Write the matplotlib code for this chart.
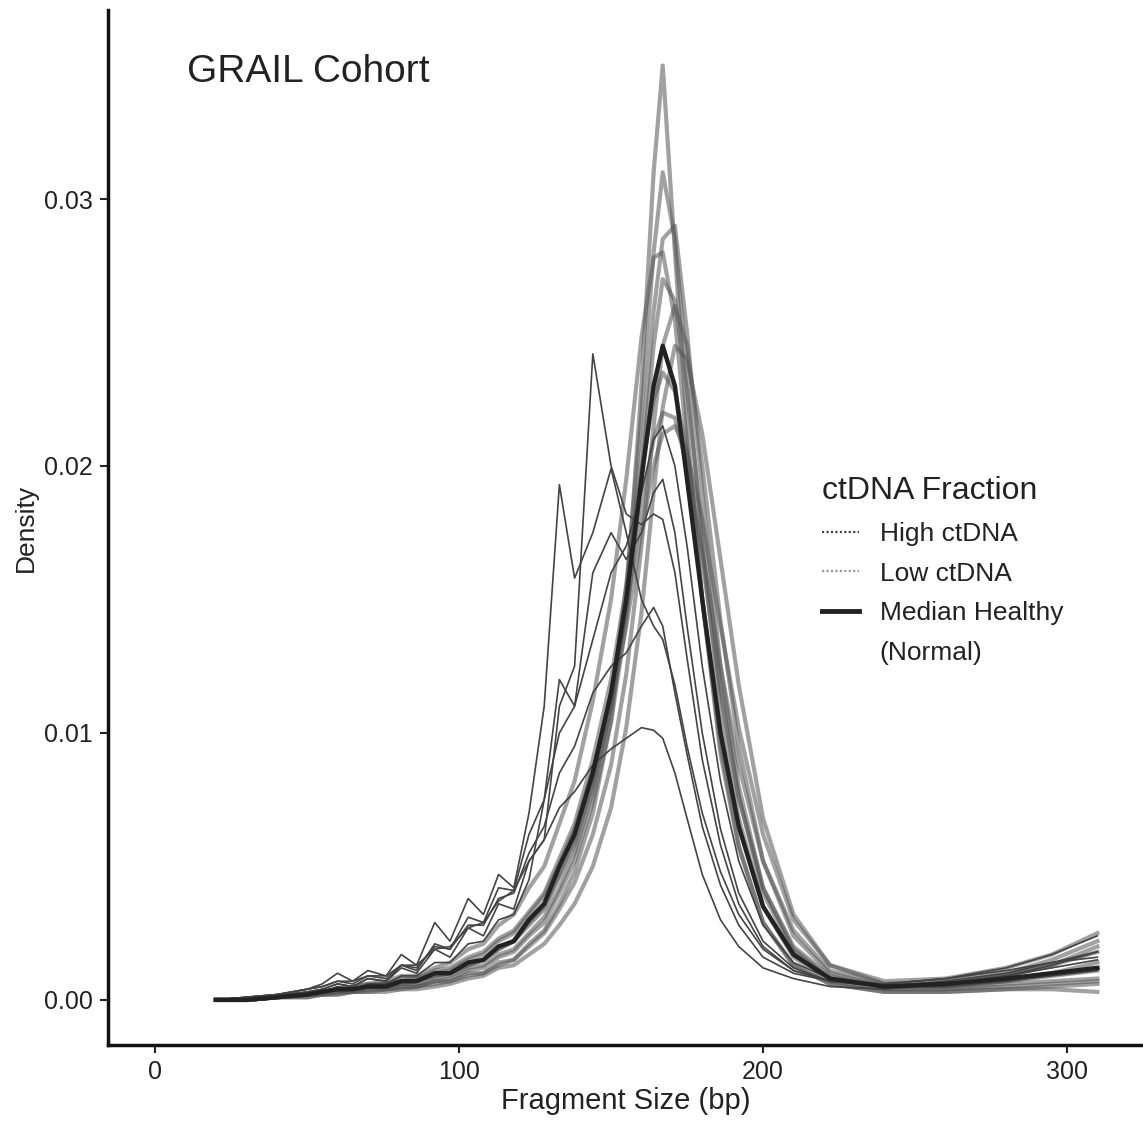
import matplotlib
matplotlib.use("Agg")
import matplotlib.pyplot as plt
from matplotlib.lines import Line2D

plt.rcParams['font.family'] = ['Liberation Sans', 'DejaVu Sans']

sizes = [20, 30, 40, 50, 55, 60, 65, 70, 76, 81,
         86, 92, 97, 103, 108, 113, 118, 123, 128, 133,
         138, 144, 150, 155, 160, 164, 167, 171, 175, 180,
         186, 192, 200, 210, 222, 240, 260, 280, 295, 310]

# high ctDNA samples
high_1 = [0, 0.0001, 0.0002, 0.0004, 0.0006, 0.0010, 0.0007, 0.0011, 0.0009, 0.0017,
          0.0013, 0.0029, 0.0022, 0.0038, 0.0032, 0.0047, 0.0042, 0.0070, 0.0110, 0.0193,
          0.0158, 0.0175, 0.0199, 0.0175, 0.0150, 0.0140, 0.0135, 0.0118, 0.0095, 0.0070,
          0.0048, 0.0032, 0.0019, 0.0011, 0.0007, 0.0005, 0.0007, 0.0010, 0.0014, 0.0018]
high_2 = [0, 0, 0.0001, 0.0003, 0.0004, 0.0006, 0.0005, 0.0008, 0.0007, 0.0012,
          0.0010, 0.0019, 0.0016, 0.0027, 0.0024, 0.0036, 0.0034, 0.0052, 0.0060, 0.0110,
          0.0125, 0.0242, 0.0200, 0.0182, 0.0178, 0.0182, 0.0180, 0.0160, 0.0128, 0.0090,
          0.0058, 0.0036, 0.0020, 0.0011, 0.0007, 0.0006, 0.0008, 0.0011, 0.0014, 0.0016]
high_3 = [0, 0.0001, 0.0002, 0.0004, 0.0005, 0.0007, 0.0006, 0.0009, 0.0008, 0.0013,
          0.0012, 0.0020, 0.0019, 0.0028, 0.0028, 0.0038, 0.0040, 0.0055, 0.0065, 0.0085,
          0.0095, 0.0115, 0.0125, 0.0130, 0.0140, 0.0147, 0.0140, 0.0115, 0.0092, 0.0065,
          0.0043, 0.0028, 0.0016, 0.0010, 0.0007, 0.0006, 0.0008, 0.0012, 0.0017, 0.0024]
high_4 = [0, 0.0001, 0.0002, 0.0004, 0.0005, 0.0007, 0.0007, 0.0009, 0.0009, 0.0013,
          0.0013, 0.0019, 0.0020, 0.0027, 0.0029, 0.0037, 0.0041, 0.0052, 0.0060, 0.0072,
          0.0078, 0.0088, 0.0094, 0.0098, 0.0102, 0.0101, 0.0098, 0.0085, 0.0068, 0.0047,
          0.0030, 0.0020, 0.0012, 0.0008, 0.0005, 0.0004, 0.0006, 0.0009, 0.0013, 0.0018]
high_5 = [0, 0.0001, 0.0002, 0.0003, 0.0004, 0.0006, 0.0005, 0.0008, 0.0007, 0.0013,
          0.0011, 0.0021, 0.0019, 0.0031, 0.0029, 0.0042, 0.0041, 0.0062, 0.0075, 0.0120,
          0.0110, 0.0160, 0.0175, 0.0165, 0.0175, 0.0190, 0.0195, 0.0175, 0.0140, 0.0100,
          0.0064, 0.0040, 0.0022, 0.0012, 0.0007, 0.0005, 0.0006, 0.0009, 0.0012, 0.0015]
high_6 = [0, 0, 0.0001, 0.0002, 0.0003, 0.0005, 0.0004, 0.0006, 0.0006, 0.0009,
          0.0009, 0.0014, 0.0014, 0.0021, 0.0022, 0.0030, 0.0032, 0.0045, 0.0075, 0.0100,
          0.0110, 0.0135, 0.0160, 0.0170, 0.0190, 0.0210, 0.0215, 0.0200, 0.0170, 0.0125,
          0.0082, 0.0052, 0.0028, 0.0014, 0.0008, 0.0005, 0.0005, 0.0007, 0.0009, 0.0011]

# low ctDNA samples
low_1 = [0, 0, 0.0001, 0.0002, 0.0002, 0.0003, 0.0003, 0.0004, 0.0004, 0.0005,
         0.0005, 0.0007, 0.0007, 0.0010, 0.0010, 0.0014, 0.0015, 0.0021, 0.0026, 0.0036,
         0.0048, 0.0070, 0.0105, 0.0150, 0.0230, 0.0310, 0.0350, 0.0280, 0.0215, 0.0150,
         0.0092, 0.0057, 0.0029, 0.0013, 0.0006, 0.0003, 0.0003, 0.0004, 0.0004, 0.0003]
low_2 = [0, 0, 0.0001, 0.0002, 0.0003, 0.0003, 0.0004, 0.0005, 0.0005, 0.0006,
         0.0006, 0.0008, 0.0009, 0.0012, 0.0013, 0.0017, 0.0019, 0.0025, 0.0031, 0.0042,
         0.0055, 0.0078, 0.0112, 0.0155, 0.0220, 0.0280, 0.0310, 0.0285, 0.0235, 0.0170,
         0.0108, 0.0068, 0.0035, 0.0016, 0.0007, 0.0004, 0.0004, 0.0006, 0.0007, 0.0008]
low_3 = [0, 0, 0.0001, 0.0002, 0.0003, 0.0004, 0.0004, 0.0005, 0.0006, 0.0007,
         0.0007, 0.0009, 0.0010, 0.0013, 0.0015, 0.0019, 0.0022, 0.0028, 0.0034, 0.0046,
         0.0058, 0.0080, 0.0110, 0.0148, 0.0205, 0.0258, 0.0285, 0.0290, 0.0250, 0.0190,
         0.0125, 0.0080, 0.0042, 0.0019, 0.0008, 0.0005, 0.0005, 0.0007, 0.0009, 0.0011]
low_4 = [0, 0, 0.0001, 0.0002, 0.0002, 0.0003, 0.0003, 0.0004, 0.0004, 0.0005,
         0.0005, 0.0007, 0.0008, 0.0011, 0.0012, 0.0016, 0.0018, 0.0024, 0.0029, 0.0040,
         0.0052, 0.0074, 0.0104, 0.0142, 0.0196, 0.0245, 0.0270, 0.0262, 0.0228, 0.0176,
         0.0118, 0.0076, 0.0040, 0.0018, 0.0008, 0.0004, 0.0004, 0.0005, 0.0006, 0.0007]
low_5 = [0, 0, 0.0001, 0.0001, 0.0002, 0.0002, 0.0003, 0.0003, 0.0004, 0.0004,
         0.0005, 0.0006, 0.0007, 0.0009, 0.0010, 0.0013, 0.0015, 0.0020, 0.0025, 0.0034,
         0.0044, 0.0062, 0.0088, 0.0122, 0.0170, 0.0215, 0.0245, 0.0260, 0.0245, 0.0200,
         0.0142, 0.0095, 0.0052, 0.0024, 0.0010, 0.0005, 0.0005, 0.0007, 0.0010, 0.0014]
low_6 = [0, 0, 0.0001, 0.0002, 0.0003, 0.0004, 0.0005, 0.0006, 0.0006, 0.0008,
         0.0008, 0.0011, 0.0012, 0.0016, 0.0018, 0.0023, 0.0026, 0.0033, 0.0040, 0.0053,
         0.0066, 0.0090, 0.0120, 0.0155, 0.0198, 0.0225, 0.0235, 0.0228, 0.0205, 0.0165,
         0.0115, 0.0076, 0.0042, 0.0020, 0.0009, 0.0005, 0.0006, 0.0009, 0.0013, 0.0018]
low_7 = [0, 0, 0.0001, 0.0002, 0.0003, 0.0004, 0.0004, 0.0005, 0.0006, 0.0007,
         0.0008, 0.0010, 0.0011, 0.0015, 0.0017, 0.0022, 0.0025, 0.0032, 0.0039, 0.0051,
         0.0064, 0.0086, 0.0114, 0.0146, 0.0184, 0.0210, 0.0220, 0.0218, 0.0200, 0.0168,
         0.0125, 0.0088, 0.0052, 0.0026, 0.0011, 0.0006, 0.0007, 0.0010, 0.0015, 0.0022]
low_8 = [0, 0, 0.0001, 0.0002, 0.0003, 0.0004, 0.0005, 0.0006, 0.0007, 0.0009,
         0.0009, 0.0012, 0.0014, 0.0019, 0.0021, 0.0028, 0.0032, 0.0042, 0.0050, 0.0066,
         0.0082, 0.0112, 0.0150, 0.0195, 0.0248, 0.0278, 0.0280, 0.0255, 0.0208, 0.0150,
         0.0095, 0.0058, 0.0029, 0.0013, 0.0006, 0.0003, 0.0003, 0.0004, 0.0005, 0.0006]
low_9 = [0, 0, 0.0001, 0.0001, 0.0002, 0.0002, 0.0003, 0.0003, 0.0003, 0.0004,
         0.0004, 0.0005, 0.0006, 0.0008, 0.0009, 0.0012, 0.0013, 0.0017, 0.0021, 0.0028,
         0.0036, 0.0050, 0.0072, 0.0102, 0.0145, 0.0190, 0.0222, 0.0245, 0.0240, 0.0212,
         0.0165, 0.0118, 0.0068, 0.0032, 0.0013, 0.0006, 0.0006, 0.0009, 0.0013, 0.0020]
low_10 = [0, 0, 0.0001, 0.0002, 0.0003, 0.0003, 0.0004, 0.0005, 0.0005, 0.0006,
          0.0007, 0.0009, 0.0010, 0.0013, 0.0015, 0.0019, 0.0022, 0.0029, 0.0035, 0.0047,
          0.0060, 0.0082, 0.0110, 0.0140, 0.0175, 0.0200, 0.0212, 0.0215, 0.0205, 0.0180,
          0.0140, 0.0102, 0.0062, 0.0030, 0.0013, 0.0007, 0.0008, 0.0012, 0.0017, 0.0025]

# median healthy (normal)
median_healthy = [0, 0, 0.0001, 0.0002, 0.0003, 0.0004, 0.0004, 0.0005, 0.0005, 0.0007,
                  0.0007, 0.0010, 0.0010, 0.0014, 0.0015, 0.0020, 0.0022, 0.0030, 0.0036, 0.0050,
                  0.0062, 0.0085, 0.0115, 0.0150, 0.0195, 0.0230, 0.0245, 0.0230, 0.0195, 0.0150,
                  0.0100, 0.0065, 0.0035, 0.0017, 0.0008, 0.0005, 0.0006, 0.0008, 0.0010, 0.0012]

high_curves = [high_1, high_2, high_3, high_4, high_5, high_6]
low_curves = [low_1, low_2, low_3, low_4, low_5, low_6, low_7, low_8, low_9, low_10]

txt_col = '#222222'
low_col = '#555555'
high_col = '#444444'
med_col = '#222222'

fig = plt.figure(figsize=(11.43, 11.22), dpi=100)
ax = fig.add_axes([0.0945, 0.0686, 0.9055, 0.9225])

for c in low_curves:
    ax.plot(sizes, c, color=low_col, lw=3.0, alpha=0.55, zorder=2)
for c in high_curves:
    ax.plot(sizes, c, color=high_col, lw=1.2, zorder=3)
ax.plot(sizes, median_healthy, color=med_col, lw=3.2, zorder=4)

ax.set_xlim(-15.5, 325)
ax.set_ylim(-0.00169, 0.03708)
ax.set_xticks([0, 100, 200, 300])
ax.set_yticks([0.00, 0.01, 0.02, 0.03])
ax.set_yticklabels(['0.00', '0.01', '0.02', '0.03'])

for s in ['top', 'right']:
    ax.spines[s].set_visible(False)
for s in ['left', 'bottom']:
    ax.spines[s].set_linewidth(2.5)
    ax.spines[s].set_color('#111111')
ax.tick_params(direction='out', length=6, width=1.5, labelsize=18,
               colors=txt_col, pad=5)

ax.set_xlabel('Fragment Size (bp)', fontsize=21, color=txt_col, labelpad=2)
ax.set_ylabel('Density', fontsize=19, color=txt_col, labelpad=4)

ax.text(0.27, 0.936, 'GRAIL Cohort', transform=fig.transFigure,
        fontsize=28, color=txt_col, ha='center', va='center')

# legend, with "(Normal)" as its own blank row like the reference
leg_handles = [Line2D([], [], color=high_col, lw=1.6, ls=(0, (1, 1))),
               Line2D([], [], color='#9a9a9a', lw=1.6, ls=(0, (1, 1))),
               Line2D([], [], color=med_col, lw=3.5),
               Line2D([], [], color='none')]
leg_labels = ['High ctDNA', 'Low ctDNA', 'Median Healthy', '(Normal)']
leg = ax.legend(leg_handles, leg_labels,
                title='ctDNA Fraction', loc='upper left',
                bbox_to_anchor=(0.698, 0.597), bbox_transform=fig.transFigure,
                frameon=False, fontsize=19, title_fontsize=23,
                handlelength=1.4, handletextpad=0.8, labelspacing=0.6,
                alignment='left')
for t in leg.get_texts():
    t.set_color(txt_col)
leg.get_title().set_color(txt_col)

fig.savefig('out.png', dpi=100)
